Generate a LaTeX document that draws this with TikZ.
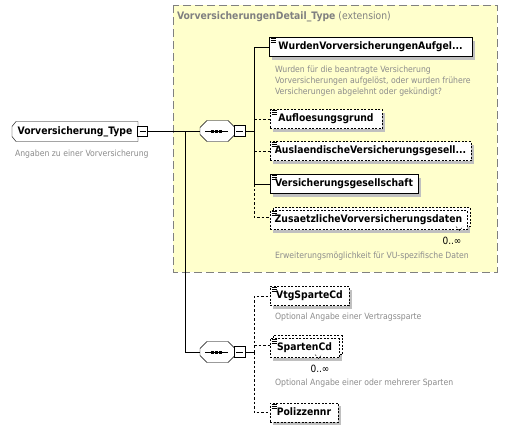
\documentclass[tikz,border=0pt]{standalone}
\usepackage{fontspec}
\setmainfont{DejaVu Sans Condensed}
\usetikzlibrary{shadows}
\definecolor{ybg}{HTML}{FFFFCC}
\definecolor{dgray}{HTML}{808080}
\definecolor{desc}{HTML}{8C8C8C}
\definecolor{shd}{HTML}{C0C0C0}
\newcommand\elemfont{\bfseries\fontsize{10.3}{11}\selectfont}
\newcommand\descfont{\fontsize{8.6}{10.8}\selectfont}
\newcommand\octapath[2]{([xshift=#2]#1.north west) -- ([xshift=-#2]#1.north east) -- ([yshift=-#2]#1.north east) -- ([yshift=#2]#1.south east) -- ([xshift=-#2]#1.south east) -- ([xshift=#2]#1.south west) -- ([yshift=#2]#1.south west) -- ([yshift=-#2]#1.north west) -- cycle}
\begin{document}
\begin{tikzpicture}[x=1pt,y=-1pt,
  every node/.style={inner sep=0pt, outer sep=0pt},
  elem/.style={draw, fill=white, anchor=west, minimum height=19pt, font=\elemfont,
    text height=7.5pt, text depth=2pt,
    general shadow={fill=shd, shadow xshift=3pt, shadow yshift=-3pt}},
  elemfront/.style={draw, fill=white, anchor=west, minimum height=19pt, font=\elemfont,
    text height=7.5pt, text depth=2pt},
  backbox/.style={draw, fill=white, anchor=west, minimum height=19pt,
    general shadow={fill=shd, shadow xshift=0pt, shadow yshift=-6pt}},
  opt/.style={dash pattern=on 2pt off 1.5pt},
  conn/.style={line width=0.8pt},
  optconn/.style={line width=0.8pt, dash pattern=on 2.5pt off 2pt},
  descr/.style={anchor=west, font=\descfont, text=desc, align=left},
  mult/.style={font=\fontsize{10}{11}\selectfont},
  minusbox/.style={draw, fill=white, minimum size=10pt,
    path picture={\draw ([xshift=2pt]path picture bounding box.west) -- ([xshift=-2pt]path picture bounding box.east);}},
  seqbox/.style={minimum width=35pt, minimum height=21pt},
  icon/.style={line width=0.6pt}
]
\useasboundingbox (0,0) rectangle (508,431);
\fill[white] (0,0) rectangle (508,431);

% extension box
\draw[fill=ybg, draw=dgray, dash pattern=on 8pt off 4pt, line width=0.8pt] (173,5) rectangle (497,272);
\node[anchor=west, text=dgray, font=\fontsize{10.3}{11}\selectfont] (title) at (177,17)
  {\textbf{VorversicherungenDetail\_Type} (extension)};

% root
\node[minimum width=126pt, minimum height=20pt, font=\elemfont,
  text height=7.5pt, text depth=2pt] (root) at (75,131.5) {Vorversicherung\_Type\hspace{5pt}};
\draw ([xshift=4pt]root.north west) -- (root.north east) -- (root.south east)
  -- ([xshift=4pt]root.south west) -- ([yshift=5pt]root.south west) -- ([yshift=-5pt]root.north west) -- cycle;
\node[minusbox] (rootm) at (142.5,131.5) {};
\node[descr] (rootd) at (15,154) {Angaben zu einer Vorversicherung};

% sequences
\node[seqbox] (seq1) at (217.5,131) {};
\node[seqbox] (seq2) at (217.5,352) {};
\foreach \s in {seq1,seq2}{
  \fill[shd, shift={(3,3)}] \octapath{\s}{7pt};
  \draw[fill=white] \octapath{\s}{7pt};
  \draw[line width=0.9pt] ([xshift=-12.5pt]\s.center) -- ([xshift=10pt]\s.center);
  \foreach \d in {-5,-1,3}
    \fill ([xshift=\d pt-1.5pt, yshift=-1.5pt]\s.center) rectangle ([xshift=\d pt+1.5pt, yshift=1.5pt]\s.center);
}
\node[minusbox, minimum size=11pt] (seq1m) at (239.5,131) {};
\node[minusbox, minimum size=11pt] (seq2m) at (239.5,352) {};

% elements of sequence 1
\node[elem, minimum width=203pt] (wurden) at (269,47) {WurdenVorversicherungenAufgel...};
\node[descr] (wurdend) at (275,81) {Wurden für die beantragte Versicherung\\Vorversicherungen aufgelöst, oder wurden frühere\\Versicherungen abgelehnt oder gekündigt?};
\node[elem, opt, minimum width=112pt] (aufl) at (270,119) {Aufloesungsgrund};
\node[elem, opt, minimum width=201pt] (ausl) at (270,151) {AuslaendischeVersicherungsgesell...};
\node[elem, minimum width=148pt] (versg) at (270,184) {Versicherungsgesellschaft};
\node[backbox, opt, minimum width=197pt] (zusb) at (273,217) {};
\node[elemfront, opt, minimum width=197pt] (zus) at (270,220) {ZusaetzlicheVorversicherungsdaten};
\draw[opt] ([xshift=-14pt]zusb.south east) -- ++(3.5pt,-4pt) -- ++(3.5pt,4pt);
\node[mult] (zusm) at (452,241) {0..∞};
\node[descr] (zusd) at (275,256) {Erweiterungsmöglichkeit für VU-spezifische Daten};

% elements of sequence 2
\node[elem, opt, minimum width=79pt] (vtg) at (270,296) {VtgSparteCd};
\node[descr] (vtgd) at (275,317) {Optional Angabe einer Vertragssparte};
\node[backbox, opt, minimum width=69pt] (spb) at (273,345) {};
\node[elemfront, opt, minimum width=69pt] (sp) at (270,348) {SpartenCd};
\node[mult] (spm) at (320,369) {0..∞};
\draw[opt] ([xshift=-27pt]spb.south east) -- ++(3.5pt,-4pt) -- ++(3.5pt,4pt);
\node[descr] (spd) at (275,383) {Optional Angabe einer oder mehrerer Sparten};
\node[elem, opt, minimum width=68pt] (poliz) at (270,412.5) {Polizzennr};

% icons
\foreach \n in {wurden,aufl,ausl,versg,zus,vtg,sp,poliz}{
  \foreach \k in {1.2,3.2,5.2}
    \draw[icon] ([xshift=1.5pt,yshift=-\k pt]\n.north west) -- ++(5pt,0);
}

% connectors
\coordinate (j1) at (185,131.5);
\coordinate (b1) at (254,131);
\coordinate (b2) at (254,352);
\draw[conn] (rootm.east) -- (seq1.west |- rootm.east);
\draw[conn] (j1) |- (seq2.west);
\draw[conn] (seq1m.east) -- (b1);
\draw[conn] (seq2m.east) -- (b2);
\draw[conn] (b1) |- (wurden.west);
\draw[conn] (b1) |- (versg.west);
\draw[optconn] (b1 |- aufl.west) -- (aufl.west);
\draw[optconn] (b1 |- ausl.west) -- (ausl.west);
\draw[optconn] (b1 |- versg.west) |- (zus.west |- zusb.west);
\draw[optconn] (b2) |- (vtg.west);
\draw[optconn] (b2) |- (poliz.west);
\draw[optconn] (b2 |- spb.west) -- (sp.west |- spb.west);
\end{tikzpicture}
\end{document}
